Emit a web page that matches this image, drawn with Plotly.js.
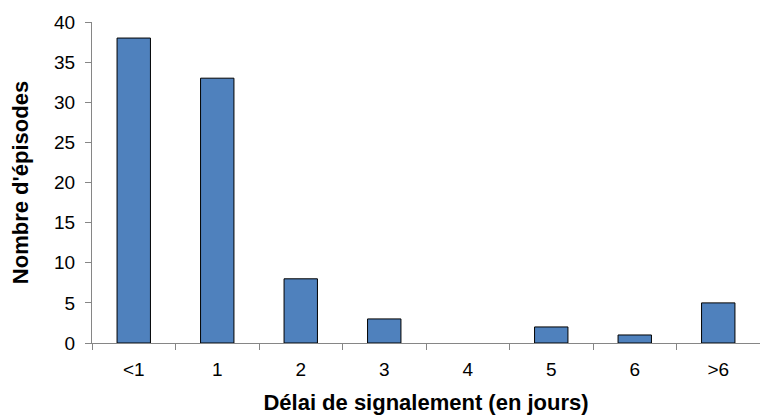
<!DOCTYPE html>
<html>
<head>
<meta charset="utf-8">
<script src="https://cdn.plot.ly/plotly-3.0.1.min.js"></script>
<style>html,body{margin:0;padding:0;background:#fff;}#chart{width:760px;height:416px;}</style>
</head>
<body>
<div id="chart"></div>
<script>
const categories = ["<1", "1", "2", "3", "4", "5", "6", ">6"];
const episodes = [38, 33, 8, 3, 0, 2, 1, 5];
const yTicks = [0, 5, 10, 15, 20, 25, 30, 35, 40];

const trace = {
  type: "bar",
  x: categories,
  y: episodes,
  marker: {
    color: "#4F81BD",
    line: {color: "#000000", width: episodes.map(v => v > 0 ? 1 : 0)}
  },
  hoverinfo: "none"
};

const layout = {
  width: 760, height: 416,
  margin: {l: 92, r: 0, t: 22, b: 73},
  paper_bgcolor: "#fff", plot_bgcolor: "#fff",
  bargap: 0.6,
  showlegend: false,
  font: {family: "Liberation Sans, Arial, sans-serif", size: 19, color: "#000"},
  xaxis: {
    type: "category",
    range: [-0.5, 7.5],
    showline: true, linecolor: "#868686", linewidth: 1,
    ticks: "outside", tickson: "boundaries", ticklen: 6, tickcolor: "#868686",
    showgrid: false, zeroline: false,
    tickfont: {size: 19},
    ticklabelstandoff: 9,
    title: {text: "Délai de signalement (en jours)", font: {size: 22, weight: "bold"}, standoff: 15}
  },
  yaxis: {
    range: [0, 40],
    tickvals: yTicks,
    showline: true, linecolor: "#868686", linewidth: 1,
    ticks: "outside", ticklen: 6, tickcolor: "#868686",
    showgrid: false, zeroline: false,
    tickfont: {size: 19},
    ticklabelstandoff: 6,
    title: {text: "Nombre d'épisodes", font: {size: 22, weight: "bold"}, standoff: 19}
  }
};

Plotly.newPlot("chart", [trace], layout, {staticPlot: true, displayModeBar: false});
</script>
</body>
</html>
